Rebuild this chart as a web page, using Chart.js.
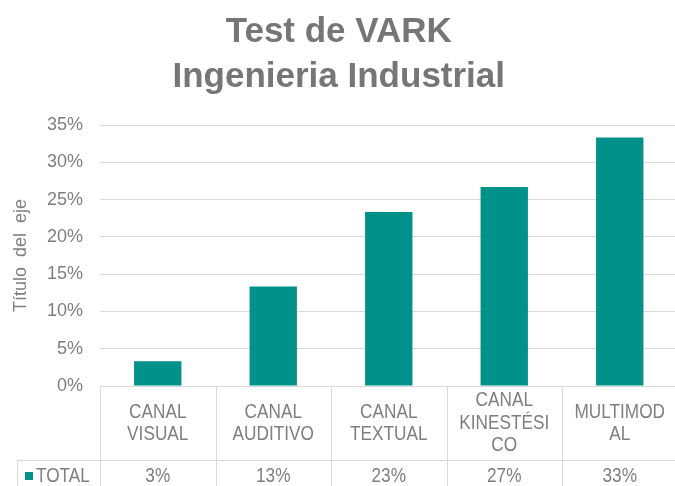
<!DOCTYPE html>
<html>
<head>
<meta charset="utf-8">
<script src="https://cdn.jsdelivr.net/npm/chart.js@4.4.1/dist/chart.umd.min.js"></script>
<style>
html, body { margin: 0; padding: 0; background: #fff; overflow: hidden; }
#wrap { width: 675px; height: 486px; overflow: hidden; }
</style>
</head>
<body>
<div id="wrap"><canvas id="vark" width="686" height="486"></canvas></div>
<script>
// datos
var categorias = [['CANAL', 'VISUAL'], ['CANAL', 'AUDITIVO'], ['CANAL', 'TEXTUAL'], ['CANAL', 'KINESTÉSI', 'CO'], ['MULTIMOD', 'AL']];
var serie = 'TOTAL';
var valores = [0.0333, 0.1333, 0.2333, 0.2667, 0.3333];
var titulo = ['Test de VARK', 'Ingenieria Industrial'];
var tituloEje = 'Título  del  eje';

var gris = '#7f7f7f';
var linea = '#d9d9d9';
var verde = '#00918b';
var normal = "'Liberation Sans', Arial, sans-serif";
var angosto = 0.82; // la fuente del original es estrecha

function pct(v) {
    return Math.round(v * 100) + '%';
}

// texto estrecho: se comprime en horizontal
function texto(ctx, t, x, y) {
    ctx.save();
    ctx.translate(x, y);
    ctx.scale(angosto, 1);
    ctx.fillText(t, 0, 0);
    ctx.restore();
}

// tabla de datos debajo del eje (como en Excel)
const tabla = {
    id: 'tabla',
    afterDraw(chart) {
        const ctx = chart.ctx;
        const area = chart.chartArea;
        const x = chart.scales.x;
        const alto = chart.height;
        const filaY = 460;

        let bordes = [area.left];
        for (let i = 0; i < categorias.length; i++) {
            bordes.push(2 * x.getPixelForValue(i) - bordes[i]);
        }

        ctx.save();
        ctx.strokeStyle = linea;
        ctx.lineWidth = 1;
        ctx.beginPath();
        // linea del eje
        ctx.moveTo(area.left, Math.round(area.bottom) + 0.5);
        ctx.lineTo(chart.width, Math.round(area.bottom) + 0.5);
        // fila TOTAL
        ctx.moveTo(17, filaY + 0.5);
        ctx.lineTo(chart.width, filaY + 0.5);
        ctx.moveTo(17.5, filaY);
        ctx.lineTo(17.5, alto);
        for (let b of bordes) {
            ctx.moveTo(Math.round(b) + 0.5, area.bottom);
            ctx.lineTo(Math.round(b) + 0.5, alto);
        }
        ctx.stroke();

        ctx.fillStyle = gris;
        ctx.font = '21px ' + normal;
        ctx.textAlign = 'center';
        ctx.textBaseline = 'middle';
        const centroFila = (area.bottom + filaY) / 2;
        for (let i = 0; i < categorias.length; i++) {
            const cx = x.getPixelForValue(i);
            const lineas = categorias[i];
            const y0 = centroFila - (lineas.length - 1) * 22.5 / 2;
            lineas.forEach(function (t, j) {
                texto(ctx, t, cx, y0 + j * 22.5);
            });
            texto(ctx, pct(valores[i]), cx, 476);
        }

        // leyenda
        ctx.fillStyle = verde;
        ctx.fillRect(25, 472, 8, 8);
        ctx.fillStyle = gris;
        ctx.textAlign = 'left';
        texto(ctx, serie, 36, 476);
        ctx.restore();
    }
};

new Chart(document.getElementById('vark'), {
    type: 'bar',
    data: {
        labels: categorias,
        datasets: [{
            label: serie,
            data: valores,
            backgroundColor: verde,
            borderWidth: 0,
            categoryPercentage: 1,
            barPercentage: 0.41
        }]
    },
    options: {
        responsive: false,
        animation: false,
        devicePixelRatio: 1,
        layout: {
            padding: { left: 0, right: 8.5, top: 0, bottom: 92 }
        },
        plugins: {
            legend: { display: false },
            tooltip: { enabled: false },
            title: {
                display: true,
                text: titulo,
                color: '#767676',
                font: { family: normal, size: 35, weight: 'bold', lineHeight: 45 / 35 },
                padding: { top: 10, bottom: 25 }
            }
        },
        scales: {
            x: {
                ticks: { display: false },
                grid: { display: false },
                border: { display: false }
            },
            y: {
                min: 0,
                max: 0.35,
                ticks: {
                    stepSize: 0.05,
                    color: gris,
                    padding: 17,
                    font: { family: normal, size: 18 },
                    callback: function (v) { return pct(v); }
                },
                grid: { color: linea, drawTicks: false },
                border: { display: false },
                title: {
                    display: true,
                    text: tituloEje,
                    color: gris,
                    font: { family: normal, size: 18 },
                    padding: { top: 10, bottom: 0 }
                },
                afterFit: function (scale) {
                    scale.width = 100;
                }
            }
        }
    },
    plugins: [tabla]
});
</script>
</body>
</html>
